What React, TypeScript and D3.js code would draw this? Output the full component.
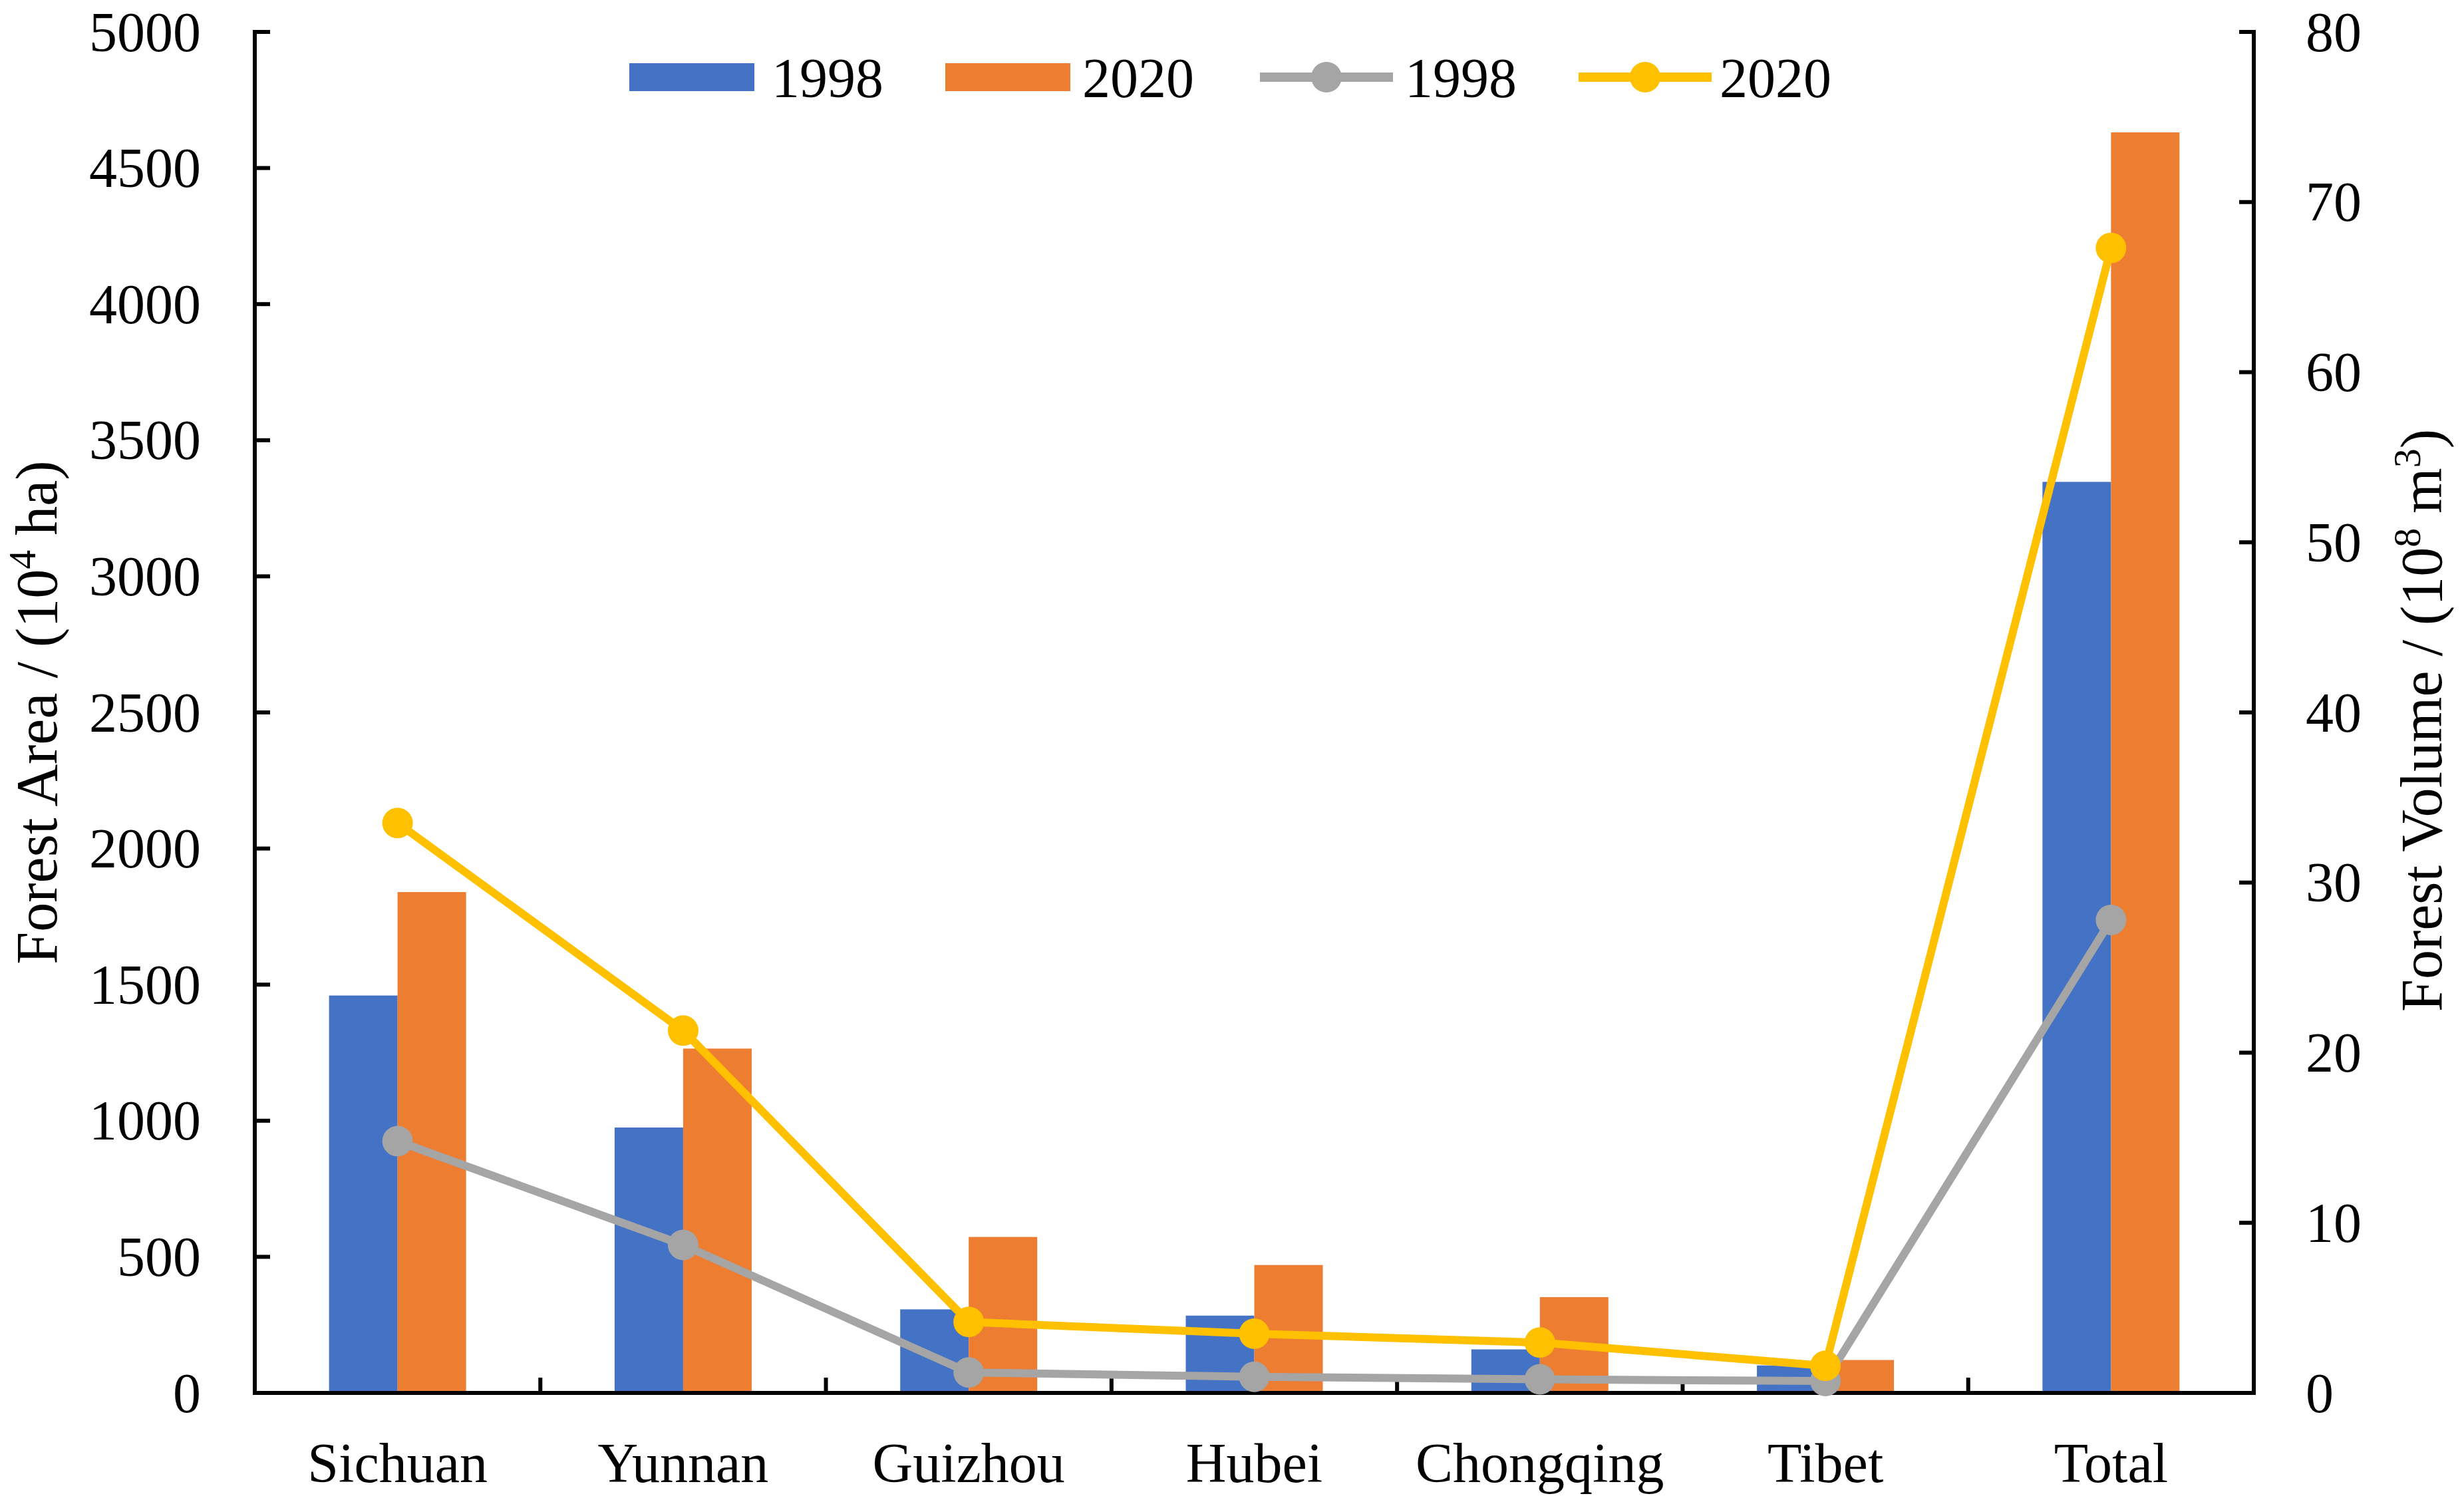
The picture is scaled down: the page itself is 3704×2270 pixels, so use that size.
import React from "react";
import * as d3 from "d3";

const categories = ["Sichuan", "Yunnan", "Guizhou", "Hubei", "Chongqing", "Tibet", "Total"];
const area1998 = [1460, 975, 307, 284, 160, 101, 3347];
const area2020 = [1840, 1265, 573, 470, 352, 121, 4631];
const volume1998 = [14.8, 8.7, 1.2, 0.95, 0.8, 0.7, 27.8];
const volume2020 = [33.5, 21.3, 4.17, 3.48, 2.96, 1.59, 67.3];
const leftTicks = [0, 500, 1000, 1500, 2000, 2500, 3000, 3500, 4000, 4500, 5000];
const rightTicks = [0, 10, 20, 30, 40, 50, 60, 70, 80];
const years = ["1998", "2020"];

const W = 3704;
const H = 2270;
const X0 = 383;
const X1 = 3388;
const Y0 = 2094;
const Y1 = 48;
const FONT = "'Liberation Serif', 'Times New Roman', serif";
const BLUE = "#4472C4";
const ORANGE = "#ED7D31";
const GRAY = "#A5A5A5";
const YELLOW = "#FFC000";

export default function App() {
  const x = d3.scaleBand<string>().domain(categories).range([X0, X1]).paddingInner(0).paddingOuter(0);
  const xSub = d3.scaleBand<string>().domain(years).range([0, x.bandwidth()]).paddingInner(0).paddingOuter(1.084);
  const yL = d3.scaleLinear().domain([0, 5000]).range([Y0, Y1]);
  const yR = d3.scaleLinear().domain([0, 80]).range([Y0, Y1]);
  const cx = (c: string) => (x(c) as number) + x.bandwidth() / 2;

  const barSeries = [
    { key: "1998", values: area1998, color: BLUE },
    { key: "2020", values: area2020, color: ORANGE },
  ];
  const lineSeries = [
    { key: "1998", values: volume1998, color: GRAY },
    { key: "2020", values: volume2020, color: YELLOW },
  ];

  const line = d3
    .line<number>()
    .x((_, i) => cx(categories[i]))
    .y((v) => yR(v));

  const boundaries = categories.map((c) => x(c) as number).slice(1);

  const legendY = 116;
  const legendItems = [
    { type: "bar", color: BLUE, label: "1998", x0: 946, x1: 1134, tx: 1160 },
    { type: "bar", color: ORANGE, label: "2020", x0: 1421, x1: 1609, tx: 1627 },
    { type: "line", color: GRAY, label: "1998", x0: 1894, x1: 2094, tx: 2112 },
    { type: "line", color: YELLOW, label: "2020", x0: 2373, x1: 2573, tx: 2585 },
  ];

  return (
    <svg
      width={W}
      height={H}
      viewBox={`0 0 ${W} ${H}`}
      style={{ position: "absolute", left: 0, top: 0, display: "block", background: "#fff" }}
      fontFamily={FONT}
    >
      <rect x={0} y={0} width={W} height={H} fill="#fff" />
      {/* bars */}
      {barSeries.map((s) => (
        <g key={s.key}>
          {categories.map((c, i) => (
            <rect
              key={c}
              x={(x(c) as number) + (xSub(s.key) as number)}
              y={yL(s.values[i])}
              width={xSub.bandwidth()}
              height={Y0 - yL(s.values[i])}
              fill={s.color}
            />
          ))}
        </g>
      ))}

      {/* axes */}
      <g stroke="#000" strokeWidth={6} fill="none">
        <line x1={X0} y1={Y1 - 3} x2={X0} y2={Y0 + 3} />
        <line x1={X1} y1={Y1 - 3} x2={X1} y2={Y0 + 3} />
        <line x1={X0} y1={Y0} x2={X1} y2={Y0} />
        {leftTicks.map((t) => (
          <line key={"lt" + t} x1={X0} y1={yL(t)} x2={X0 + 23} y2={yL(t)} />
        ))}
        {rightTicks.map((t) => (
          <line key={"rt" + t} x1={X1} y1={yR(t)} x2={X1 - 22} y2={yR(t)} />
        ))}
        {boundaries.map((b, i) => (
          <line key={"bt" + i} x1={b} y1={Y0} x2={b} y2={Y0 - 23} />
        ))}
      </g>

      {/* lines */}
      {lineSeries.map((s) => (
        <g key={s.key}>
          <path d={line(s.values) || ""} fill="none" stroke={s.color} strokeWidth={12} strokeLinejoin="round" />
          {s.values.map((v, i) => (
            <circle key={i} cx={cx(categories[i])} cy={yR(v)} r={23} fill={s.color} />
          ))}
        </g>
      ))}

      {/* tick labels */}
      <g fontSize={84} fill="#000">
        {leftTicks.map((t) => (
          <text key={"ll" + t} x={302} y={yL(t)} textAnchor="end" dy="0.34em">
            {t}
          </text>
        ))}
        {rightTicks.map((t) => (
          <text key={"rl" + t} x={3466} y={yR(t)} textAnchor="start" dy="0.34em">
            {t}
          </text>
        ))}
        {categories.map((c) => (
          <text key={"xl" + c} x={cx(c)} y={2228} textAnchor="middle">
            {c}
          </text>
        ))}
      </g>

      {/* axis titles */}
      <text
        transform={`translate(85, ${(Y0 + Y1) / 2}) rotate(-90)`}
        textAnchor="middle"
        fontSize={88}
        fill="#000"
      >
        Forest Area / (10
        <tspan baselineShift="super" fontSize={58}>4</tspan>
        <tspan> ha)</tspan>
      </text>
      <text
        transform={`translate(3670, ${(Y0 + Y1) / 2 + 12}) rotate(-90)`}
        textAnchor="middle"
        fontSize={88}
        fill="#000"
      >
        Forest Volume / (10
        <tspan baselineShift="super" fontSize={58}>8</tspan>
        <tspan> m</tspan>
        <tspan baselineShift="super" fontSize={58}>3</tspan>
        <tspan>)</tspan>
      </text>

      {/* legend */}
      <g>
        {legendItems.map((it, i) => (
          <g key={i}>
            {it.type === "bar" ? (
              <rect x={it.x0} y={legendY - 21} width={it.x1 - it.x0} height={42} fill={it.color} />
            ) : (
              <g>
                <line x1={it.x0} y1={legendY} x2={it.x1} y2={legendY} stroke={it.color} strokeWidth={14} />
                <circle cx={(it.x0 + it.x1) / 2} cy={legendY} r={23} fill={it.color} />
              </g>
            )}
            <text x={it.tx} y={146} fontSize={84} fill="#000">
              {it.label}
            </text>
          </g>
        ))}
      </g>
    </svg>
  );
}
